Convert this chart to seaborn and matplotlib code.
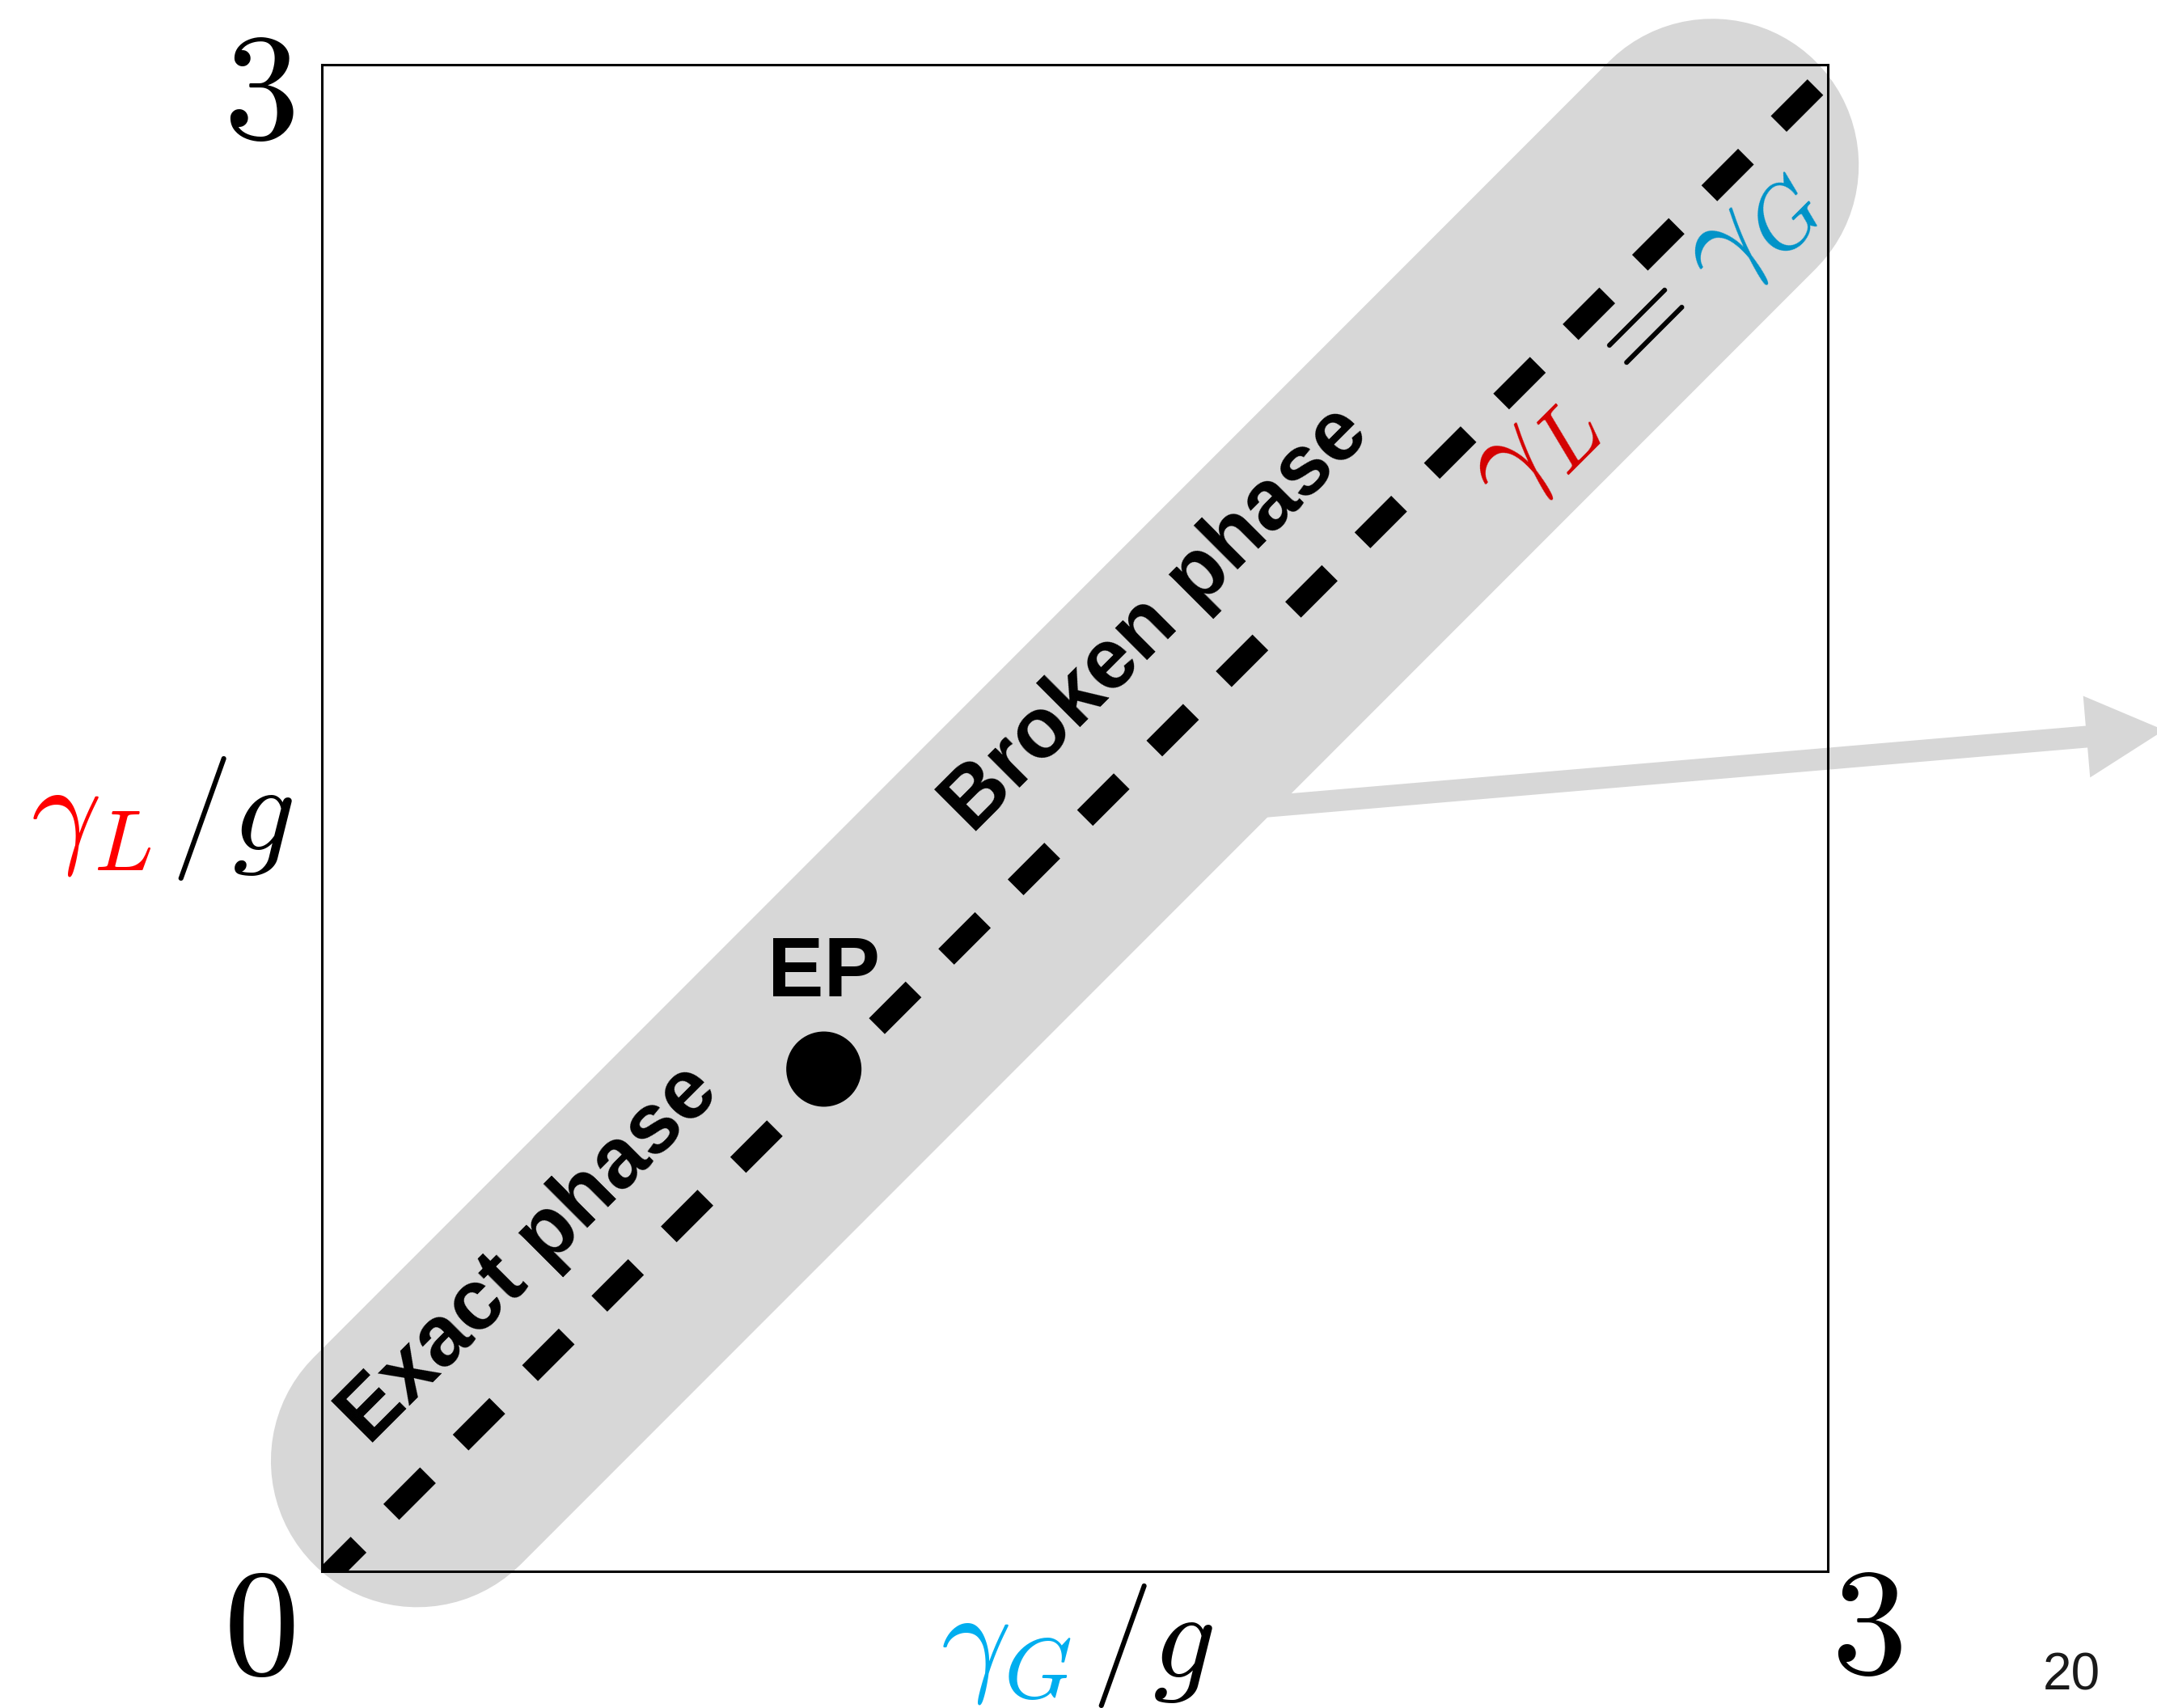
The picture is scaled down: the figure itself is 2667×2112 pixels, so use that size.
import matplotlib
matplotlib.use("Agg")
import numpy as np
import matplotlib.pyplot as plt
import seaborn as sns

# ---- phase diagram in the (gamma_G/g, gamma_L/g) plane ----
diag_x = [0.0, 3.0]          # balanced-loss line gamma_L = gamma_G
diag_y = [-0.02, 2.98]
band_x = [0.19, 2.77]        # highlighted region around the line
band_y = [0.22, 2.80]
ep_x = [1.0]                 # exceptional point
ep_y = [1.0]
arrow_tail = (1.764, 1.513)
arrow_tip = (3.67, 1.675)
axis_lim = (0, 3)
tick_zero = "$0$"
tick_max = "$3$"
phase_labels = ["Exact phase", "Broken phase"]
ep_label = "EP"
page_number = "20"

GRAY = "#d7d7d7"
RED = "#ff0000"
CYAN = "#00aeef"
RED_DARK = "#d40000"
BLUE_DARK = "#0093c8"

sns.set_style("white")
plt.rcParams["font.family"] = ["Liberation Sans", "DejaVu Sans"]
plt.rcParams["mathtext.fontset"] = "cm"
plt.rcParams["text.color"] = "black"

W, H, DPI = 2667, 2112, 100
PT = 72 / DPI  # pixels -> points

fig = plt.figure(figsize=(W / DPI, H / DPI), dpi=DPI)
fig.patch.set_facecolor("white")
ax = fig.add_axes([398 / W, 1 - 1943 / H, 1862 / W, 1863 / H])
ax.set_xlim(*axis_lim)
ax.set_ylim(*axis_lim)
ax.set_xticks([])
ax.set_yticks([])
for sp in ax.spines.values():
    sp.set_visible(True)
    sp.set_color("black")
    sp.set_linewidth(2.2)
    sp.set_zorder(2.6)

# shaded band (thick round-capped stroke)
sns.lineplot(x=band_x, y=band_y, ax=ax, color=GRAY, linewidth=362 * PT,
             solid_capstyle="round", clip_on=False, zorder=1)

# pointer arrow leaving the band
ax.arrow(arrow_tail[0], arrow_tail[1],
         arrow_tip[0] - arrow_tail[0], arrow_tip[1] - arrow_tail[1],
         width=0.0435, head_width=0.163, head_length=0.155,
         length_includes_head=True, fc=GRAY, ec="none", lw=0,
         clip_on=False, zorder=1.5)

# dashed diagonal
sns.lineplot(x=diag_x, y=diag_y, ax=ax, color="black", linewidth=19.9,
             linestyle=(0, (2.32, 2.07)), zorder=3)

# exceptional point
sns.scatterplot(x=ep_x, y=ep_y, ax=ax, s=(93 * PT) ** 2, color="black",
                edgecolor="none", linewidth=0, zorder=4)

ax.set_xlabel("")
ax.set_ylabel("")

# region labels
ax.text(0.0946, 0.249, phase_labels[0], rotation=45, rotation_mode="anchor",
        ha="left", va="baseline", fontsize=76, fontweight="bold",
        color="black", zorder=5)
ax.text(1.2954, 1.467, phase_labels[1], rotation=45, rotation_mode="anchor",
        ha="left", va="baseline", fontsize=76, fontweight="bold",
        color="black", zorder=5)
ax.text(ep_x[0], 1.145, ep_label, ha="center", va="baseline",
        fontsize=75, fontweight="bold", color="black", zorder=5)

# corner tick labels
tick_fs = 135
for lab, xy, off in [(tick_zero, (0, 0), (-78, -127)),
                     (tick_max, (0, 3), (-78, -91)),
                     (tick_max, (3, 0), (48, -126))]:
    ax.annotate(lab, xy=xy, xycoords="data",
                xytext=(off[0] * PT, off[1] * PT), textcoords="offset points",
                ha="center", va="baseline", fontsize=tick_fs, color="black",
                annotation_clip=False)

# multi-coloured axis labels
lab_fs = 110
fig.canvas.draw()
renderer = fig.canvas.get_renderer()
inv = fig.transFigure.inverted()


def px2fig(x, y_from_top):
    return x / W, 1 - y_from_top / H


def text_width(s, size):
    t = fig.text(0, 0, s, fontsize=size)
    w = t.get_window_extent(renderer).width
    t.remove()
    return w


for s, col, x0, base in [(r"$\gamma_L$", RED, 38, 1051),
                         (r"$/g$", "black", 211, 1051),
                         (r"$\gamma_G$", CYAN, 1163, 2074),
                         (r"$/g$", "black", 1349, 2074)]:
    fx, fy = px2fig(x0, base)
    fig.text(fx, fy, s, ha="left", va="baseline", fontsize=lab_fs, color=col)

# rotated gamma_L = gamma_G along the band
eq_fs = 111
em = eq_fs * DPI / 72
cx, cy = ax.transData.transform((2.615, 2.462))
ux, uy = np.cos(np.pi / 4), np.sin(np.pi / 4)
nx, ny = -uy, ux
bx, by = cx - 0.25 * em * nx, cy - 0.25 * em * ny
half = text_width("$=$", eq_fs) / 2 + 0.278 * em
for s, col, ha, d in [(r"$\gamma_L$", RED_DARK, "right", -half),
                      (r"$=$", "black", "center", 0.0),
                      (r"$\gamma_G$", BLUE_DARK, "left", half)]:
    fx, fy = inv.transform((bx + d * ux, by + d * uy))
    fig.text(fx, fy, s, rotation=45, rotation_mode="anchor", ha=ha,
             va="baseline", fontsize=eq_fs, color=col, zorder=5)

# slide number
fx, fy = px2fig(2561, 2089)
fig.text(fx, fy, page_number, ha="center", va="baseline", fontsize=46,
         color="#1a1a1a")

fig.savefig("out.png", dpi=DPI, facecolor="white")
